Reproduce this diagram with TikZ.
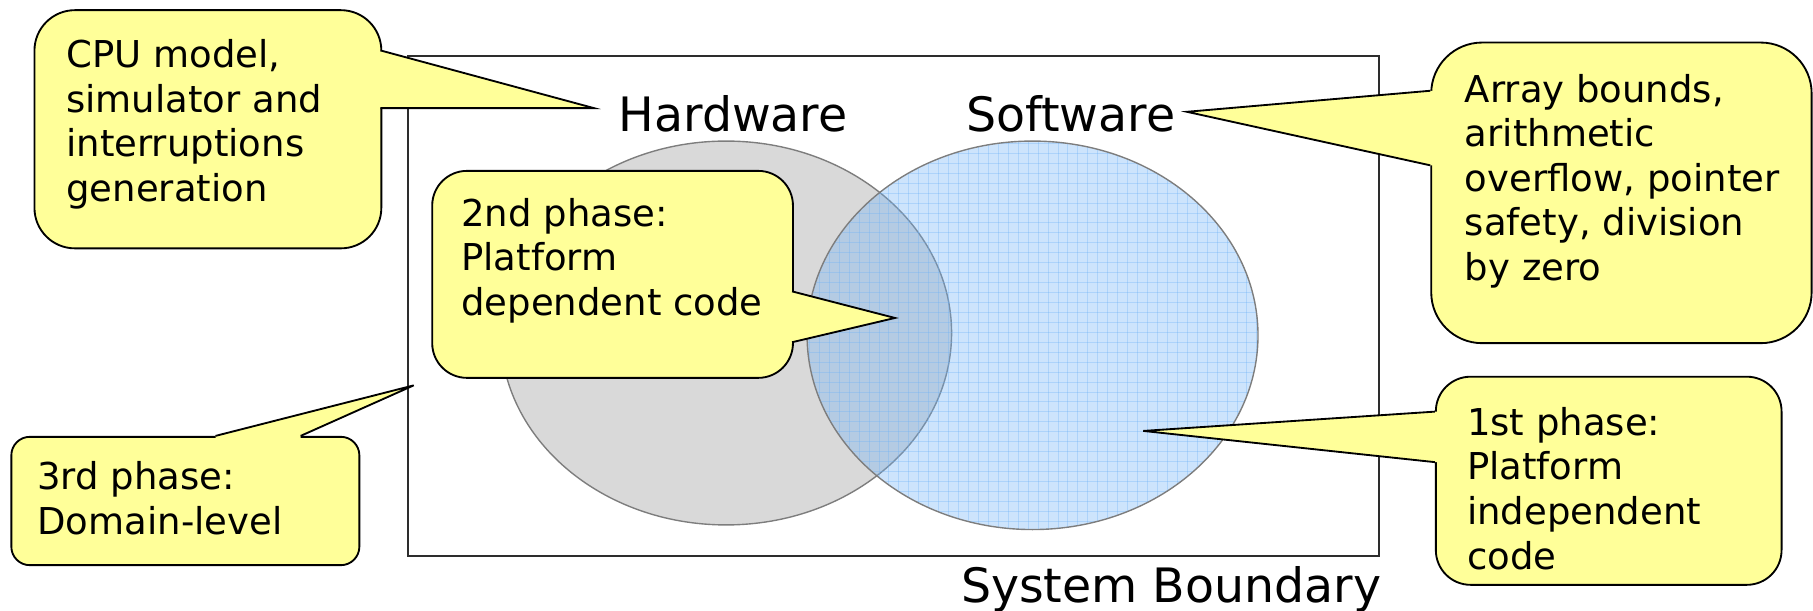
\documentclass[tikz,border=0pt]{standalone}
\usepackage{fontspec}
\setmainfont{DejaVu Sans}
\usetikzlibrary{calc}

\definecolor{noteyellow}{RGB}{255,255,153}
\definecolor{hwgray}{RGB}{217,217,217}
\definecolor{edgegray}{RGB}{125,125,125}
\definecolor{swblue}{RGB}{112,178,246}
\definecolor{framegray}{RGB}{45,45,45}

\tikzset{
  notebox/.style={draw=black, fill=noteyellow, line width=0.8pt, inner sep=0pt, anchor=north west},
  noteline/.style={draw=black, line width=0.8pt, line join=miter},
  notetext/.style={anchor=north west, inner sep=0pt, align=left,
                   font=\fontsize{16pt}{19.3pt}\selectfont},
  biglabel/.style={inner sep=0pt, font=\fontsize{20.5pt}{24pt}\selectfont},
  frame/.style={draw=framegray, line width=0.75pt, inner sep=0pt, anchor=north west},
  setedge/.style={draw=edgegray, line width=0.6pt},
  gridline/.style={draw=swblue, opacity=0.35, line width=0.4pt}
}

% callout pointer: base point, tip, base point, inward shift
\newcommand\calloutptr[4]{%
  \fill[noteyellow] ($(#1)+(#4)$) -- (#1) -- (#2) -- (#3) -- ($(#3)+(#4)$) -- cycle;
  \draw[noteline] (#1) -- (#2) -- (#3);
}

\begin{document}
\begin{tikzpicture}[x=0.5pt, y=-0.5pt]
\useasboundingbox (0,0) rectangle (1568,528);

% system boundary
\node[frame, minimum width=420pt, minimum height=216pt] (system) at (352,48) {};

% hardware set
\draw[setedge, fill=hwgray] (628,288) ellipse [x radius=195, y radius=166];

% software set: translucent blue with a fine grid texture
\fill[swblue, fill opacity=0.35] (893,290) ellipse [x radius=195, y radius=168];
\begin{scope}
  \clip (893,290) ellipse [x radius=195, y radius=168];
  \foreach \gx in {700,708.6,...,1092} \draw[gridline] (\gx,118) -- (\gx,462);
  \foreach \gy in {124,132.6,...,462} \draw[gridline] (694,\gy) -- (1092,\gy);
\end{scope}
\draw[setedge] (893,290) ellipse [x radius=195, y radius=168];

% labels
\node[biglabel, anchor=base] (hw) at (634,114) {Hardware};
\node[biglabel, anchor=base] (sw) at (926,114) {Software};
\node[biglabel, anchor=base east] (sb) at (1195,521) {System Boundary};

% CPU model callout
\node[notebox, rounded corners=17.5pt, minimum width=150pt, minimum height=103pt] (cpubox) at (29,8) {};
\coordinate (cpuA) at (329,43.6);
\coordinate (cpuTip) at (513.6,93.5);
\coordinate (cpuB) at (329,93.5);
\calloutptr{cpuA}{cpuTip}{cpuB}{-3,0}
\node[notetext] (cputext) at (57,33.6) {CPU model,\\simulator and\\interruptions\\generation};

% 2nd phase callout
\node[notebox, rounded corners=15pt, minimum width=156pt, minimum height=89.5pt] (p2box) at (373,147) {};
\coordinate (p2A) at (685,252);
\coordinate (p2Tip) at (774,275);
\coordinate (p2B) at (685,296);
\calloutptr{p2A}{p2Tip}{p2B}{-3,0}
\node[notetext] (p2text) at (398.6,171) {2nd phase:\\Platform\\dependent code};

% array bounds callout
\node[notebox, rounded corners=22pt, minimum width=164.5pt, minimum height=130pt] (swbox) at (1237,36) {};
\coordinate (swA) at (1237,78.5);
\coordinate (swTip) at (1026.5,96.7);
\coordinate (swB) at (1237,143);
\calloutptr{swA}{swTip}{swB}{3,0}
\node[notetext] (swtext) at (1266.6,63.6) {Array bounds,\\arithmetic\\overflow, pointer\\safety, division\\by zero};

% 3rd phase callout
\node[notebox, rounded corners=8pt, minimum width=150.5pt, minimum height=55.5pt] (p3box) at (9,377) {};
\coordinate (p3A) at (186.4,377);
\coordinate (p3Tip) at (357.8,333.3);
\coordinate (p3B) at (260,377);
\calloutptr{p3A}{p3Tip}{p3B}{0,3}
\node[notetext] (p3text) at (32,399) {3rd phase:\\Domain-level};

% 1st phase callout
\node[notebox, rounded corners=15pt, minimum width=149.5pt, minimum height=90pt] (p1box) at (1241,325) {};
\coordinate (p1A) at (1241,356);
\coordinate (p1Tip) at (988.8,372.7);
\coordinate (p1B) at (1241,399.7);
\calloutptr{p1A}{p1Tip}{p1B}{3,0}
\node[notetext] (p1text) at (1268.5,351.6) {1st phase:\\Platform\\independent\\code};
\end{tikzpicture}
\end{document}
